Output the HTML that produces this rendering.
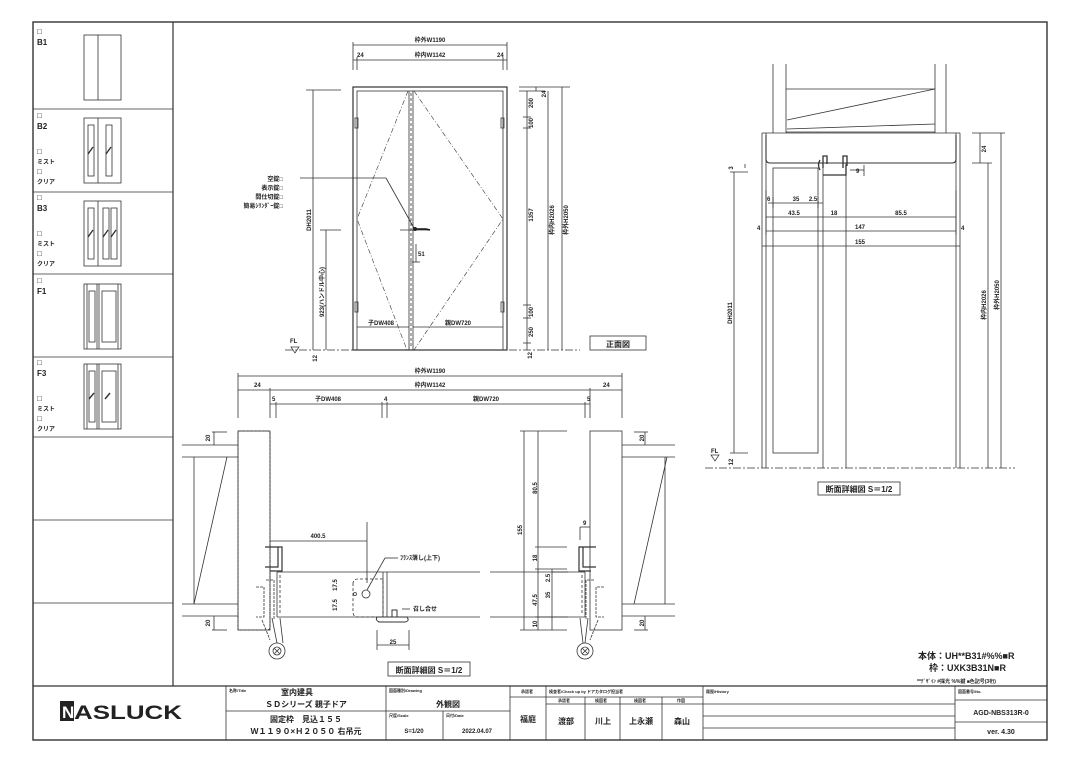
<!DOCTYPE html>
<html><head><meta charset="utf-8"><style>
html,body{margin:0;padding:0;background:#fff;}
svg{display:block;font-family:"Liberation Sans","Noto Sans CJK JP",sans-serif;}
text{fill:#222;}
</style></head><body>
<svg width="1080" height="764" viewBox="0 0 1080 764" xmlns="http://www.w3.org/2000/svg">
<g fill="none" stroke="#333" stroke-width="0.8">
<!-- outer border -->
<rect x="33" y="22" width="1014" height="718" stroke-width="1.4"/>
<line x1="173" y1="22" x2="173" y2="686" stroke-width="1.2"/>
<line x1="33" y1="686" x2="1047" y2="686" stroke-width="1.2"/>
<!-- left panel rows -->
<line x1="33" y1="109" x2="173" y2="109"/>
<line x1="33" y1="192" x2="173" y2="192"/>
<line x1="33" y1="274" x2="173" y2="274"/>
<line x1="33" y1="357" x2="173" y2="357"/>
<line x1="33" y1="437" x2="173" y2="437"/>
<line x1="33" y1="520" x2="173" y2="520"/>
<line x1="33" y1="603" x2="173" y2="603"/>
<!-- B1 -->
<rect x="84" y="35" width="37" height="65"/><line x1="98" y1="35" x2="98" y2="100"/>
<!-- B2 -->
<rect x="84" y="118" width="37" height="65"/><line x1="98" y1="118" x2="98" y2="183"/>
<rect x="88" y="125" width="6" height="51"/><rect x="106" y="125" width="6" height="51"/>
<line x1="88" y1="154" x2="93" y2="147" stroke-width="1.4"/><line x1="106" y1="154" x2="111" y2="147" stroke-width="1.4"/>
<!-- B3 -->
<rect x="84" y="201" width="37" height="65"/><line x1="98" y1="201" x2="98" y2="266"/>
<rect x="88" y="208" width="6" height="51"/><rect x="103" y="208" width="6" height="51"/><rect x="111" y="208" width="6" height="51"/>
<line x1="88" y1="237" x2="93" y2="230" stroke-width="1.4"/><line x1="103" y1="237" x2="108" y2="230" stroke-width="1.4"/><line x1="111" y1="237" x2="116" y2="230" stroke-width="1.4"/>
<!-- F1 -->
<rect x="84" y="284" width="37" height="65"/><line x1="87" y1="284" x2="87" y2="349"/><line x1="97" y1="284" x2="97" y2="349"/><line x1="99" y1="284" x2="99" y2="349"/><line x1="118" y1="284" x2="118" y2="349"/>
<rect x="89" y="291" width="6" height="51"/><rect x="102" y="291" width="14" height="51"/>
<!-- F3 -->
<rect x="84" y="364" width="37" height="65"/><line x1="87" y1="364" x2="87" y2="429"/><line x1="97" y1="364" x2="97" y2="429"/><line x1="99" y1="364" x2="99" y2="429"/><line x1="118" y1="364" x2="118" y2="429"/>
<rect x="89" y="371" width="6" height="51"/><rect x="102" y="371" width="14" height="51"/>
<line x1="89" y1="399" x2="94" y2="393" stroke-width="1.4"/><line x1="105" y1="399" x2="110" y2="393" stroke-width="1.4"/>
</g>
<g font-size="8" font-weight="bold">
<text x="37" y="34">□</text><text x="37" y="45">B1</text>
<text x="37" y="118">□</text><text x="37" y="129">B2</text><text x="37" y="154">□</text><text x="37" y="164" font-size="6">ミスト</text><text x="37" y="174">□</text><text x="37" y="184" font-size="6">クリア</text>
<text x="37" y="200">□</text><text x="37" y="211">B3</text><text x="37" y="236">□</text><text x="37" y="246" font-size="6">ミスト</text><text x="37" y="256">□</text><text x="37" y="266" font-size="6">クリア</text>
<text x="37" y="283">□</text><text x="37" y="294">F1</text>
<text x="37" y="365">□</text><text x="37" y="376">F3</text><text x="37" y="401">□</text><text x="37" y="411" font-size="6">ミスト</text><text x="37" y="421">□</text><text x="37" y="431" font-size="6">クリア</text>
</g>

<!-- FRONT ELEVATION -->
<g fill="none" stroke="#333" stroke-width="0.8">
<rect x="353" y="87" width="154" height="263" stroke-width="1.2"/>
<rect x="357" y="91" width="146" height="259"/>
<line x1="409" y1="91" x2="409" y2="350"/><line x1="413" y1="91" x2="413" y2="350"/>
<line x1="411" y1="93" x2="411" y2="348" stroke-dasharray="3,2"/>
<g stroke-dasharray="5,2,1,2" stroke-width="0.6">
<polyline points="408,91 357,219 407,350"/>
<polyline points="414,91 503,219 414,350"/>
</g>
<rect x="355" y="118" width="3" height="10"/><rect x="355" y="302" width="3" height="10"/>
<rect x="501" y="118" width="3" height="10"/><rect x="501" y="302" width="3" height="10"/>
<line x1="357" y1="327" x2="409" y2="327"/><line x1="413" y1="327" x2="503" y2="327"/>
<!-- top dims -->
<line x1="353" y1="45" x2="507" y2="45"/><line x1="353" y1="42" x2="353" y2="70"/><line x1="507" y1="42" x2="507" y2="70"/>
<line x1="353" y1="60" x2="507" y2="60"/><line x1="357" y1="57" x2="357" y2="70"/><line x1="503" y1="57" x2="503" y2="70"/>
<!-- left dims -->
<line x1="313" y1="90" x2="313" y2="350"/><line x1="306" y1="90" x2="341" y2="90"/>
<line x1="326" y1="230" x2="326" y2="350"/><line x1="320" y1="230" x2="341" y2="230"/>
<line x1="285" y1="350" x2="580" y2="350" stroke-dasharray="8,2,2,2"/>
<line x1="300" y1="178" x2="386" y2="178"/><line x1="386" y1="178" x2="414" y2="228"/>
<!-- handle -->
<line x1="400" y1="230" x2="430" y2="230"/>
<line x1="411" y1="335" x2="411" y2="335"/>
<line x1="416" y1="244" x2="416" y2="262"/><line x1="410" y1="262" x2="420" y2="262"/>
<!-- right dims -->
<line x1="519" y1="87" x2="570" y2="87"/><line x1="519" y1="91" x2="545" y2="91"/>
<line x1="527" y1="91" x2="527" y2="350"/>
<line x1="523" y1="117" x2="531" y2="117"/><line x1="523" y1="128" x2="531" y2="128"/>
<line x1="523" y1="305" x2="531" y2="305"/><line x1="523" y1="318" x2="531" y2="318"/><line x1="523" y1="343" x2="531" y2="343"/>
<line x1="548" y1="91" x2="548" y2="350"/><line x1="562" y1="87" x2="562" y2="350"/>
<line x1="536" y1="87" x2="536" y2="91"/>
</g>
<g stroke="#111" stroke-width="1.6" fill="none"><path d="M414 229 h12 M426 229 l4 1"/></g>
<circle cx="415" cy="229" r="2" fill="#222"/>
<path d="M291 347 l4 6 l4 -6 z" fill="none" stroke="#333" stroke-width="0.7"/>
<g font-size="6" font-weight="bold">
<text x="430" y="42" text-anchor="middle">枠外W1190</text>
<text x="430" y="57" text-anchor="middle">枠内W1142</text>
<text x="357" y="57">24</text><text x="497" y="57">24</text>
<text x="381" y="325" text-anchor="middle">子DW408</text>
<text x="458" y="325" text-anchor="middle">親DW720</text>
<text x="418" y="256">51</text>
<text x="290" y="343">FL</text>
<text x="283" y="181" text-anchor="end">空錠□</text>
<text x="283" y="190" text-anchor="end">表示錠□</text>
<text x="283" y="199" text-anchor="end">間仕切錠□</text>
<text x="283" y="208" text-anchor="end">簡易ｼﾘﾝﾀﾞｰ錠□</text>
<text transform="translate(311,220) rotate(-90)" text-anchor="middle">DH2011</text>
<text transform="translate(324,292) rotate(-90)" text-anchor="middle">923(ハンドル中心)</text>
<text transform="translate(533,103) rotate(-90)" text-anchor="middle">200</text>
<text transform="translate(533,123) rotate(-90)" text-anchor="middle">100</text>
<text transform="translate(533,215) rotate(-90)" text-anchor="middle">1357</text>
<text transform="translate(533,312) rotate(-90)" text-anchor="middle">100</text>
<text transform="translate(533,332) rotate(-90)" text-anchor="middle">250</text>
<text transform="translate(546,94) rotate(-90)" text-anchor="middle">24</text>
<text transform="translate(554,220) rotate(-90)" text-anchor="middle">枠内H2026</text>
<text transform="translate(568,220) rotate(-90)" text-anchor="middle">枠外H2050</text>
<text transform="translate(532,352) rotate(-90)" text-anchor="end">12</text>
<text transform="translate(317,355) rotate(-90)" text-anchor="end">12</text>
</g>
<rect x="590" y="336" width="56" height="14" fill="none" stroke="#333" stroke-width="0.8"/>
<text x="618" y="347" font-size="8" font-weight="bold" text-anchor="middle">正面図</text>

<!-- BOTTOM SECTION -->
<g fill="none" stroke="#333" stroke-width="0.8">
<line x1="238" y1="376" x2="622" y2="376"/><line x1="238" y1="390" x2="622" y2="390"/>
<line x1="270" y1="404" x2="590" y2="404"/>
<line x1="238" y1="373" x2="238" y2="418"/><line x1="622" y1="373" x2="622" y2="418"/>
<line x1="270" y1="388" x2="270" y2="418"/><line x1="590" y1="388" x2="590" y2="418"/>
<line x1="276" y1="402" x2="276" y2="418"/><line x1="585" y1="402" x2="585" y2="418"/>
<line x1="382" y1="402" x2="382" y2="418"/><line x1="387" y1="402" x2="387" y2="418"/>
<!-- left jamb -->
<path d="M238 431 H268 Q270 431 270 434 V627 Q270 630 267 630 H238 Z" stroke-dasharray="3,1"/>
<rect x="238" y="431" width="32" height="199"/>
<line x1="182" y1="445" x2="238" y2="445"/><line x1="182" y1="457" x2="238" y2="457"/>
<line x1="182" y1="604" x2="238" y2="604"/><line x1="182" y1="616" x2="238" y2="616"/>
<line x1="194" y1="457" x2="194" y2="604"/><line x1="194" y1="604" x2="227" y2="457"/>
<line x1="212" y1="432" x2="227" y2="432"/><line x1="212" y1="630" x2="227" y2="630"/>
<line x1="214" y1="432" x2="214" y2="445"/><line x1="214" y1="616" x2="214" y2="630"/>
<!-- right jamb -->
<rect x="590" y="431" width="32" height="199"/>
<line x1="622" y1="445" x2="675" y2="445"/><line x1="622" y1="457" x2="675" y2="457"/>
<line x1="622" y1="604" x2="675" y2="604"/><line x1="622" y1="616" x2="675" y2="616"/>
<line x1="665" y1="457" x2="665" y2="604"/><line x1="634" y1="604" x2="667" y2="457"/>
<line x1="634" y1="432" x2="648" y2="432"/><line x1="634" y1="630" x2="648" y2="630"/>
<line x1="645" y1="432" x2="645" y2="445"/><line x1="645" y1="616" x2="645" y2="630"/>
<!-- door stops -->
<path d="M265 547 h13 v20 h-13 M278 547 h4 v24 h-12" stroke-width="1.2"/>
<path d="M596 547 h-13 v20 h13 M583 547 h-4 v24 h12" stroke-width="1.2"/>
<!-- leaves -->
<line x1="277" y1="572" x2="480" y2="572"/><line x1="277" y1="617" x2="480" y2="617"/>
<line x1="490" y1="572" x2="585" y2="572"/><line x1="490" y1="617" x2="585" y2="617"/>
<line x1="277" y1="572" x2="277" y2="617"/><line x1="585" y1="572" x2="585" y2="617"/>
<line x1="280" y1="575" x2="280" y2="615" stroke-dasharray="3,2"/><line x1="582" y1="575" x2="582" y2="615" stroke-dasharray="3,2"/>
<line x1="383" y1="572" x2="383" y2="617"/><line x1="387" y1="572" x2="387" y2="617"/>
<path d="M353 584 q0 -5 5 -5 h25 v38 h-25 q-5 0 -5 -5 z" stroke-dasharray="3,2"/>
<circle cx="366" cy="594" r="4"/><circle cx="355" cy="594" r="1.5"/>
<path d="M377 617 h30 q3 4 -2 5 h-26 q-4 -2 -2 -5 z M392 617 v-7 h5 v7" stroke-width="1"/>
<line x1="270" y1="541" x2="367" y2="541"/><line x1="367" y1="522" x2="367" y2="583"/>
<line x1="367" y1="590" x2="385" y2="558"/><line x1="385" y1="558" x2="398" y2="558"/>
<line x1="402" y1="609" x2="410" y2="609"/>
<line x1="377" y1="630" x2="377" y2="650"/><line x1="409" y1="630" x2="409" y2="650"/><line x1="377" y1="645" x2="409" y2="645"/>
<!-- hinges -->
<path d="M256 587 h8 v30 h-8 M266 580 h8 v40 M262 620 l8 20" stroke-dasharray="3,1"/>
<line x1="272" y1="618" x2="277" y2="643"/><line x1="280" y1="618" x2="283" y2="643"/>
<circle cx="277" cy="651" r="8"/><circle cx="277" cy="651" r="4"/><path d="M274.5 648.5 l5 5 M279.5 648.5 l-5 5"/>
<path d="M604 587 h-8 v30 h8 M594 580 h-8 v40 M598 620 l-8 20" stroke-dasharray="3,1"/>
<line x1="588" y1="618" x2="585" y2="643"/><line x1="580" y1="618" x2="583" y2="643"/>
<circle cx="585" cy="651" r="8"/><circle cx="585" cy="651" r="4"/><path d="M582.5 648.5 l5 5 M587.5 648.5 l-5 5"/>
<!-- right dims -->
<line x1="524" y1="431" x2="524" y2="630"/><line x1="520" y1="431" x2="567" y2="431"/><line x1="520" y1="630" x2="567" y2="630"/>
<line x1="538" y1="431" x2="538" y2="630"/>
<line x1="535" y1="547" x2="567" y2="547"/><line x1="535" y1="569" x2="567" y2="569"/>
<line x1="552" y1="569" x2="552" y2="630"/><line x1="552" y1="572" x2="568" y2="572"/><line x1="535" y1="617" x2="568" y2="617"/>
<line x1="580" y1="527" x2="590" y2="527"/><line x1="580" y1="527" x2="580" y2="540"/>
</g>
<g font-size="6" font-weight="bold">
<text x="430" y="373" text-anchor="middle">枠外W1190</text>
<text x="430" y="387" text-anchor="middle">枠内W1142</text>
<text x="254" y="387">24</text><text x="603" y="387">24</text>
<text x="272" y="401">5</text><text x="328" y="401" text-anchor="middle">子DW408</text>
<text x="384" y="401">4</text><text x="486" y="401" text-anchor="middle">親DW720</text>
<text x="587" y="401">5</text>
<text x="318" y="538" text-anchor="middle">400.5</text>
<text x="400" y="560">ﾌﾗﾝｽ落し(上下)</text>
<text x="413" y="611">召し合せ</text>
<text x="393" y="644" text-anchor="middle">25</text>
<text x="583" y="525">9</text>
<text transform="translate(210,438) rotate(-90)" text-anchor="middle">20</text>
<text transform="translate(210,623) rotate(-90)" text-anchor="middle">20</text>
<text transform="translate(644,438) rotate(-90)" text-anchor="middle">20</text>
<text transform="translate(644,623) rotate(-90)" text-anchor="middle">20</text>
<text transform="translate(537,488) rotate(-90)" text-anchor="middle">80.5</text>
<text transform="translate(522,530) rotate(-90)" text-anchor="middle">155</text>
<text transform="translate(537,558) rotate(-90)" text-anchor="middle">18</text>
<text transform="translate(550,578) rotate(-90)" text-anchor="middle">2.5</text>
<text transform="translate(550,595) rotate(-90)" text-anchor="middle">35</text>
<text transform="translate(537,600) rotate(-90)" text-anchor="middle">47.5</text>
<text transform="translate(537,624) rotate(-90)" text-anchor="middle">10</text>
<text transform="translate(337,585) rotate(-90)" text-anchor="middle">17.5</text>
<text transform="translate(337,605) rotate(-90)" text-anchor="middle">17.5</text>
</g>
<rect x="388" y="662" width="82" height="14" fill="none" stroke="#333" stroke-width="0.8"/>
<text x="429" y="673" font-size="8" font-weight="bold" text-anchor="middle">断面詳細図 S＝1/2</text>

<!-- RIGHT SECTION -->
<g fill="none" stroke="#333" stroke-width="0.8">
<line x1="773" y1="64" x2="773" y2="133"/><line x1="786" y1="64" x2="786" y2="133"/>
<line x1="935" y1="64" x2="935" y2="133"/><line x1="946" y1="64" x2="946" y2="133"/>
<line x1="786" y1="89" x2="935" y2="89"/><line x1="786" y1="132" x2="935" y2="132"/>
<line x1="787" y1="120" x2="935" y2="89"/><line x1="787" y1="129" x2="935" y2="124"/>
<line x1="762" y1="133" x2="960" y2="133"/>
<line x1="762" y1="133" x2="762" y2="468"/><line x1="960" y1="133" x2="960" y2="468"/>
<line x1="766" y1="133" x2="766" y2="468"/><line x1="956" y1="133" x2="956" y2="468"/>
<path d="M766 135 V159 Q766 163 770 163 H952 Q956 163 956 159 V135" stroke-width="1.1"/>
<rect x="773" y="168" width="45" height="285"/>
<line x1="823" y1="163" x2="823" y2="468"/><line x1="846" y1="163" x2="846" y2="468"/>
<path d="M823 168 v-12 h4 v8 M843 168 v-12 h4 v10 M823 175 h23 v-10" stroke-width="1.3"/>
<path d="M820 160 q-3 5 0 10" stroke-width="1.3"/>
<line x1="705" y1="468" x2="1015" y2="468" stroke-dasharray="8,2,2,2"/>
<line x1="850" y1="170" x2="864" y2="170"/><line x1="864" y1="165" x2="864" y2="176"/>
<line x1="768" y1="203" x2="823" y2="203"/><line x1="766" y1="217" x2="956" y2="217"/>
<line x1="766" y1="231" x2="956" y2="231"/><line x1="762" y1="246" x2="960" y2="246"/>
<line x1="766" y1="190" x2="766" y2="235"/><line x1="956" y1="190" x2="956" y2="235"/>
<line x1="773" y1="197" x2="773" y2="208"/><line x1="818" y1="197" x2="818" y2="208"/>
<line x1="734" y1="172" x2="734" y2="453"/><line x1="730" y1="172" x2="748" y2="172"/><line x1="730" y1="453" x2="748" y2="453"/>
<line x1="745" y1="164" x2="745" y2="168"/>
<line x1="988" y1="163" x2="988" y2="468"/><line x1="1001" y1="133" x2="1001" y2="468"/>
<line x1="972" y1="133" x2="1005" y2="133"/><line x1="972" y1="163" x2="992" y2="163"/>
<line x1="980" y1="133" x2="980" y2="163"/>
</g>
<path d="M711 455 l4 6 l4 -6 z" fill="none" stroke="#333" stroke-width="0.7"/>
<g font-size="6" font-weight="bold">
<text x="767" y="201">6</text><text x="796" y="201" text-anchor="middle">35</text><text x="813" y="201" text-anchor="middle">2.5</text>
<text x="794" y="215" text-anchor="middle">43.5</text><text x="834" y="215" text-anchor="middle">18</text><text x="901" y="215" text-anchor="middle">85.5</text>
<text x="757" y="230">4</text><text x="860" y="229" text-anchor="middle">147</text><text x="961" y="230">4</text>
<text x="860" y="244" text-anchor="middle">155</text>
<text x="856" y="173">9</text>
<text x="711" y="453">FL</text>
<text transform="translate(732,313) rotate(-90)" text-anchor="middle">DH2011</text>
<text transform="translate(986,305) rotate(-90)" text-anchor="middle">枠内H2026</text>
<text transform="translate(999,295) rotate(-90)" text-anchor="middle">枠外H2050</text>
<text transform="translate(986,149) rotate(-90)" text-anchor="middle">24</text>
<text transform="translate(733,168) rotate(-90)" text-anchor="middle">3</text>
<text transform="translate(733,462) rotate(-90)" text-anchor="middle">12</text>
</g>
<rect x="818" y="482" width="82" height="13" fill="none" stroke="#333" stroke-width="0.8"/>
<text x="859" y="492" font-size="8" font-weight="bold" text-anchor="middle">断面詳細図 S＝1/2</text>

<!-- notes -->
<g font-weight="bold">
<text x="918" y="659" font-size="9">本体：UH**B31#%%■R</text>
<text x="929" y="671" font-size="9">枠：UXK3B31N■R</text>
<text x="917" y="683" font-size="5">**ﾃﾞｻﾞｲﾝ #採光 %%鍵 ■色記号(3桁)</text>
</g>

<!-- TITLE BLOCK -->
<g fill="none" stroke="#333" stroke-width="0.8">
<line x1="226" y1="686" x2="226" y2="740"/>
<line x1="386" y1="686" x2="386" y2="740"/>
<line x1="510" y1="686" x2="510" y2="740"/>
<line x1="546" y1="686" x2="546" y2="740"/>
<line x1="703" y1="686" x2="703" y2="740"/>
<line x1="955" y1="686" x2="955" y2="740"/>
<line x1="226" y1="711" x2="386" y2="711"/>
<line x1="386" y1="711" x2="510" y2="711"/>
<line x1="443" y1="711" x2="443" y2="740"/>
<line x1="510" y1="697" x2="546" y2="697"/>
<line x1="546" y1="697" x2="703" y2="697"/>
<line x1="546" y1="704" x2="703" y2="704"/>
<line x1="585" y1="697" x2="585" y2="740"/><line x1="620" y1="697" x2="620" y2="740"/><line x1="662" y1="697" x2="662" y2="740"/>
<line x1="703" y1="704" x2="955" y2="704"/><line x1="703" y1="716" x2="955" y2="716"/><line x1="703" y1="728" x2="955" y2="728"/>
<line x1="955" y1="700" x2="1047" y2="700"/><line x1="955" y1="722" x2="1047" y2="722"/>
</g>
<rect x="60" y="701" width="14" height="20" fill="#222"/>
<text x="62" y="718" font-size="17" font-weight="bold" fill="#fff" style="fill:#fff">N</text>
<text x="74" y="719" font-size="19" font-weight="bold" textLength="108" lengthAdjust="spacingAndGlyphs">ASLUCK</text>
<g font-size="4" font-weight="bold">
<text x="229" y="692">名称/Title</text>
<text x="389" y="692">図面種別/Drawing</text>
<text x="389" y="717">尺度/Scale</text><text x="446" y="717">日付/Date</text>
<text x="521" y="693">承認者</text>
<text x="549" y="693">検査者/Check up by ドアカタログ担当者</text>
<text x="706" y="693">履歴/History</text>
<text x="958" y="693">図面番号/No.</text>
<text x="558" y="702">承認者</text><text x="595" y="702">検図者</text><text x="634" y="702">検図者</text><text x="677" y="702">作図</text>
</g>
<g font-size="8" font-weight="bold" text-anchor="middle">
<text x="297" y="695">室内建具</text>
<text x="306" y="707">ＳＤシリーズ 親子ドア</text>
<text x="306" y="722">固定枠　見込１５５</text>
<text x="306" y="734">Ｗ１１９０×Ｈ２０５０ 右吊元</text>
<text x="448" y="707">外観図</text>
<text x="414" y="733" font-size="6">S=1/20</text>
<text x="477" y="733" font-size="6">2022.04.07</text>
<text x="528" y="722">福庭</text>
<text x="566" y="724">渡部</text><text x="603" y="724">川上</text><text x="641" y="724">上永瀬</text><text x="682" y="724">森山</text>
<text x="1001" y="715" font-size="7">AGD-NBS313R-0</text>
<text x="1001" y="734" font-size="7">ver. 4.30</text>
</g>
</svg>
</body></html>
